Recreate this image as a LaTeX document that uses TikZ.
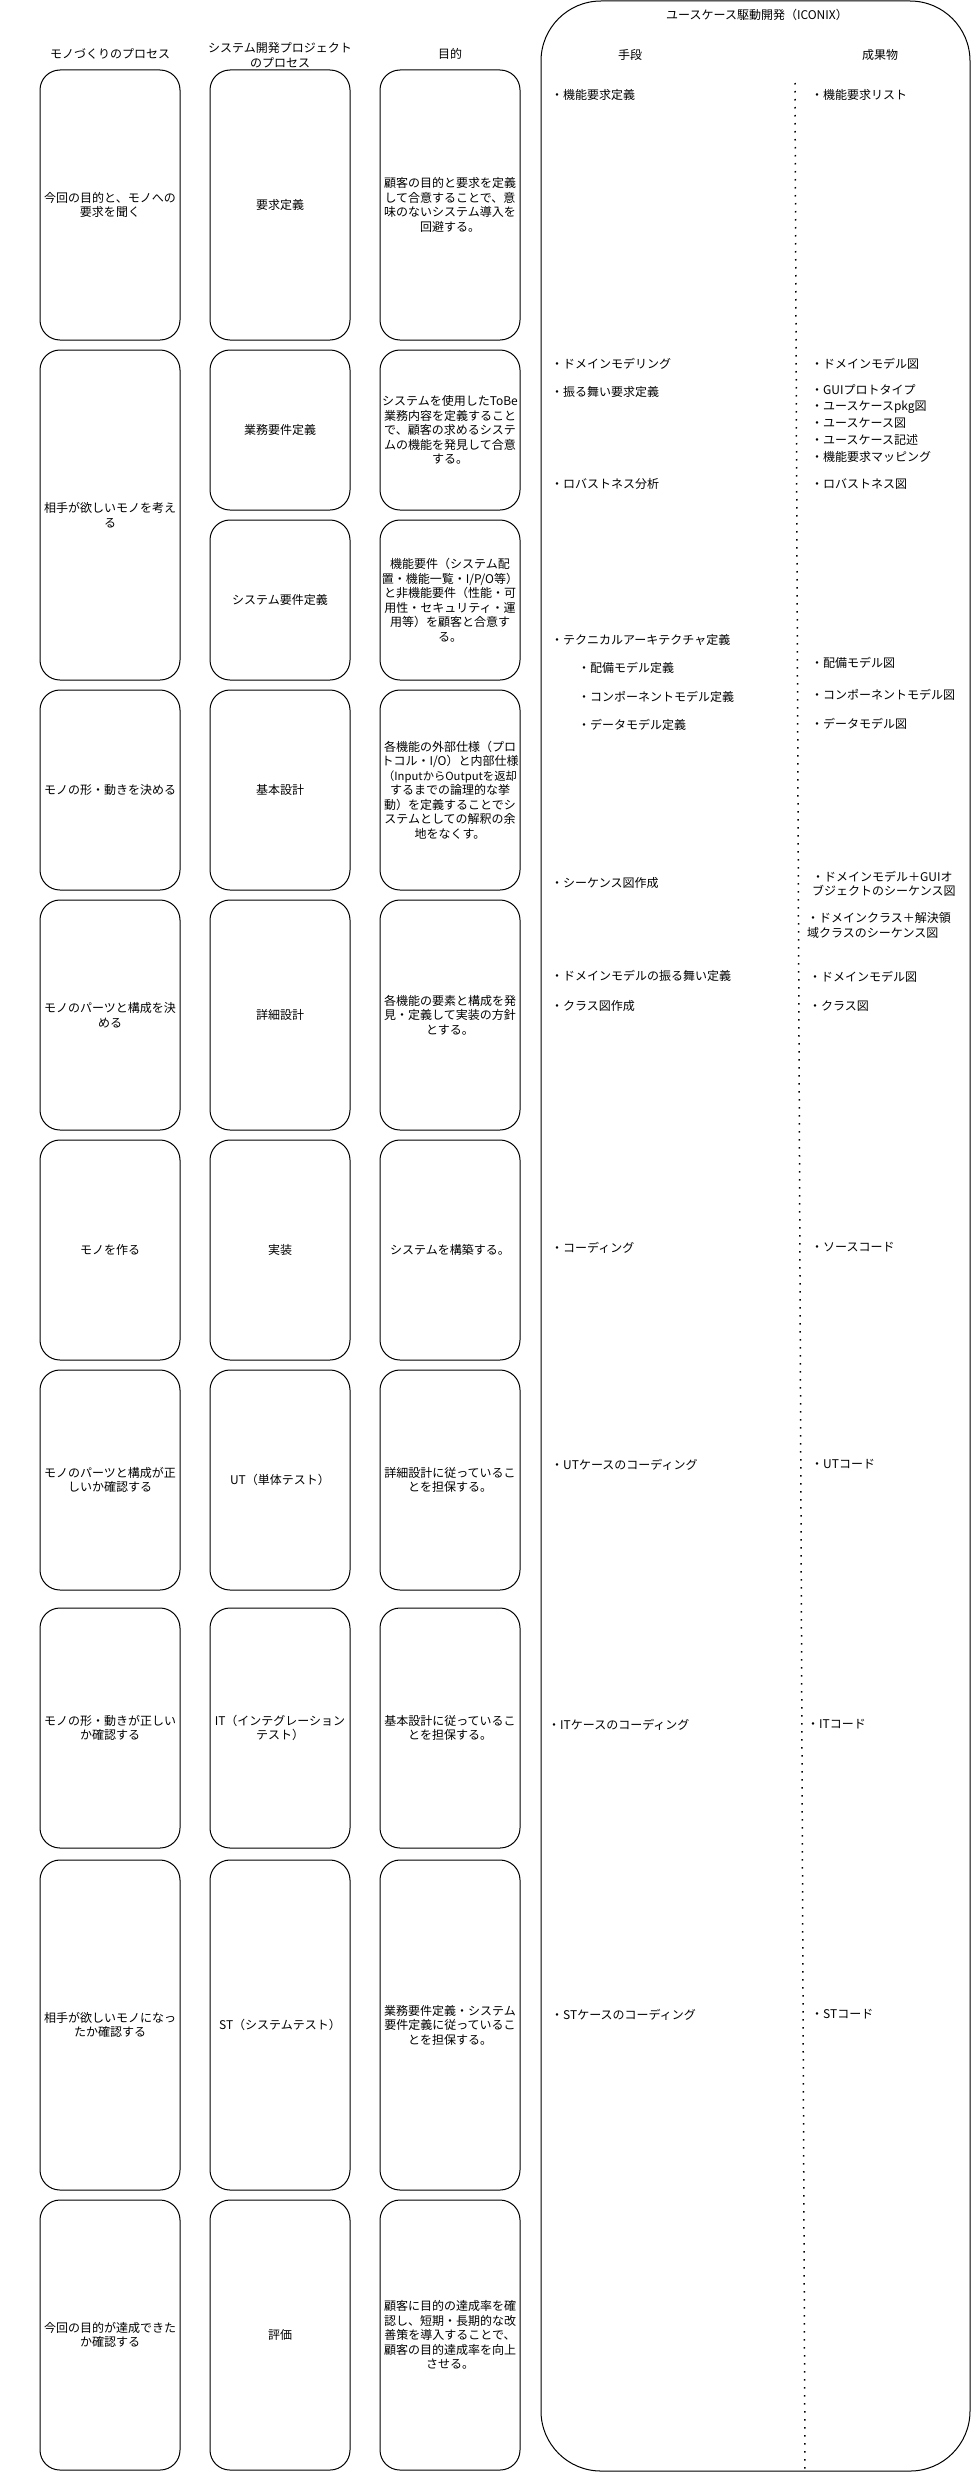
\documentclass[tikz,border=0pt]{standalone}
\usepackage{fontspec}
\setmainfont{Noto Sans CJK JP}
\newcommand{\jpsize}{\fontsize{12}{14.5}\selectfont}
\tikzset{card/.style={rectangle,rounded corners=20pt,draw=black,line width=1pt,align=center,font=\jpsize,inner sep=1pt,minimum width=140pt},
  frame/.style={rectangle,rounded corners=60pt,draw=black,line width=1pt},
  head/.style={align=center,font=\jpsize,inner sep=0pt},
  item/.style={anchor=west,align=left,font=\jpsize,inner sep=0pt},
  sepline/.style={line width=1.5pt,dash pattern=on 1.5pt off 6.5pt}}

\begin{document}
\begin{tikzpicture}[x=1pt,y=-1pt]
\useasboundingbox (0,0) rectangle (971,2473);
% column heads
\node[head] (headMake) at (110,54) {モノづくりのプロセス};
\node[head] (headProc) at (280,55) {システム開発プロジェクト\\のプロセス};
\node[head] (headGoal) at (450,54) {目的};
% モノづくりのプロセス
\node[card,minimum height=270pt] (make1) at (110,205) {今回の目的と、モノへの\\要求を聞く};
\node[card,minimum height=330pt] (make2) at (110,515) {相手が欲しいモノを考え\\る};
\node[card,minimum height=200pt] (make3) at (110,790) {モノの形・動きを決める};
\node[card,minimum height=230pt] (make4) at (110,1015) {モノのパーツと構成を決\\める};
\node[card,minimum height=220pt] (make5) at (110,1250) {モノを作る};
\node[card,minimum height=220pt] (make6) at (110,1480) {モノのパーツと構成が正\\しいか確認する};
\node[card,minimum height=240pt] (make7) at (110,1728) {モノの形・動きが正しい\\か確認する};
\node[card,minimum height=330pt] (make8) at (110,2025) {相手が欲しいモノになっ\\たか確認する};
\node[card,minimum height=270pt] (make9) at (110,2335) {今回の目的が達成できた\\か確認する};
% システム開発プロジェクトのプロセス
\node[card,minimum height=270pt] (proc1) at (280,205) {要求定義};
\node[card,minimum height=160pt] (proc2a) at (280,430) {業務要件定義};
\node[card,minimum height=160pt] (proc2b) at (280,600) {システム要件定義};
\node[card,minimum height=200pt] (proc3) at (280,790) {基本設計};
\node[card,minimum height=230pt] (proc4) at (280,1015) {詳細設計};
\node[card,minimum height=220pt] (proc5) at (280,1250) {実装};
\node[card,minimum height=220pt] (proc6) at (280,1480) {UT（単体テスト）};
\node[card,minimum height=240pt] (proc7) at (280,1728) {IT（インテグレーション\\テスト）};
\node[card,minimum height=330pt] (proc8) at (280,2025) {ST（システムテスト）};
\node[card,minimum height=270pt] (proc9) at (280,2335) {評価};
% 目的
\node[card,minimum height=270pt] (goal1) at (450,205) {顧客の目的と要求を定義\\して合意することで、意\\味のないシステム導入を\\回避する。};
\node[card,minimum height=160pt] (goal2a) at (450,430) {システムを使用したToBe\\業務内容を定義すること\\で、顧客の求めるシステ\\ムの機能を発見して合意\\する。};
\node[card,minimum height=160pt] (goal2b) at (450,600) {機能要件（システム配\\置・機能一覧・I/P/O等）\\と非機能要件（性能・可\\用性・セキュリティ・運\\用等）を顧客と合意す\\る。};
\node[card,inner sep=0pt,minimum height=200pt] (goal3) at (450,790) {各機能の外部仕様（プロ\\トコル・I/O）と内部仕様\\{\fontsize{11.3}{14.5}\selectfont（InputからOutputを返却}\\するまでの論理的な挙\\動）を定義することでシ\\ステムとしての解釈の余\\地をなくす。};
\node[card,minimum height=230pt] (goal4) at (450,1015) {各機能の要素と構成を発\\見・定義して実装の方針\\とする。};
\node[card,minimum height=220pt] (goal5) at (450,1250) {システムを構築する。};
\node[card,minimum height=220pt] (goal6) at (450,1480) {詳細設計に従っているこ\\とを担保する。};
\node[card,minimum height=240pt] (goal7) at (450,1728) {基本設計に従っているこ\\とを担保する。};
\node[card,minimum height=330pt] (goal8) at (450,2025) {業務要件定義・システム\\要件定義に従っているこ\\とを担保する。};
\node[card,minimum height=270pt] (goal9) at (450,2335) {顧客に目的の達成率を確\\認し、短期・長期的な改\\善策を導入することで、\\顧客の目的達成率を向上\\させる。};
% ユースケース駆動開発（ICONIX）
\node[frame,minimum width=429pt,minimum height=2470pt] (iconix) at (755.5,1236) {};
\node[head] (iconixTitle) at (757,15) {ユースケース駆動開発（ICONIX）};
\node[head] (headMeans) at (630,55) {手段};
\node[head] (headOutput) at (880,55) {成果物};
\coordinate (sepTop) at (795,83);
\coordinate (sepBot) at (805,2473);
\draw[sepline] (sepTop) -- (sepBot);
% 手段
\node[item] (means1) at (551,95) {・機能要求定義};
\node[item] (means2) at (551,364) {・ドメインモデリング};
\node[item] (means3) at (551,392) {・振る舞い要求定義};
\node[item] (means4) at (551,484) {・ロバストネス分析};
\node[item] (means5) at (551,640) {・テクニカルアーキテクチャ定義};
\node[item] (means6) at (578,668) {・配備モデル定義};
\node[item] (means7) at (578,697) {・コンポーネントモデル定義};
\node[item] (means8) at (578,725) {・データモデル定義};
\node[item] (means9) at (551,883) {・シーケンス図作成};
\node[item] (means10) at (551,976) {・ドメインモデルの振る舞い定義};
\node[item] (means11) at (551,1006) {・クラス図作成};
\node[item] (means12) at (551,1248) {・コーディング};
\node[item] (means13) at (551,1465) {・UTケースのコーディング};
\node[item] (means14) at (548,1725) {・ITケースのコーディング};
\node[item] (means15) at (551,2015) {・STケースのコーディング};
% 成果物
\node[item] (out1) at (811,95) {・機能要求リスト};
\node[item] (out2) at (811,364) {・ドメインモデル図};
\node[item] (out3) at (811,390) {・GUIプロトタイプ};
\node[item] (out4) at (811,407) {・ユースケースpkg図};
\node[item] (out5) at (811,423.5) {・ユースケース図};
\node[item] (out6) at (811,440) {・ユースケース記述};
\node[item] (out7) at (811,457) {・機能要求マッピング};
\node[item] (out8) at (811,484) {・ロバストネス図};
\node[item] (out9) at (811,663) {・配備モデル図};
\node[item] (out10) at (811,695) {・コンポーネントモデル図};
\node[item] (out11) at (811,724) {・データモデル図};
\node[item] (out12) at (812,884) {・ドメインモデル＋GUIオ\\ブジェクトのシーケンス図};
\node[item] (out13) at (807,925.5) {・ドメインクラス＋解決領\\域クラスのシーケンス図};
\node[item] (out14) at (809,977) {・ドメインモデル図};
\node[item] (out15) at (809,1006) {・クラス図};
\node[item] (out16) at (811,1247) {・ソースコード};
\node[item] (out17) at (811,1464) {・UTコード};
\node[item] (out18) at (807,1724) {・ITコード};
\node[item] (out19) at (811,2014) {・STコード};
\end{tikzpicture}
\end{document}
